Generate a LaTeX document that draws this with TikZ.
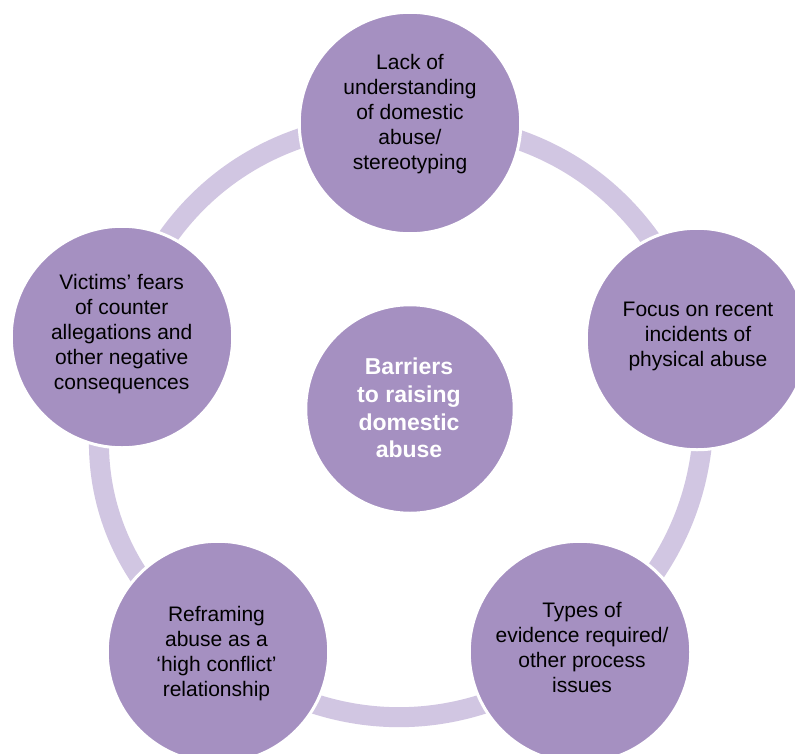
\documentclass[tikz,border=0pt]{standalone}
\usepackage{fontspec}
\setmainfont{Liberation Sans}
\usetikzlibrary{backgrounds}
\definecolor{nodefill}{HTML}{A590C1}
\definecolor{ringcol}{HTML}{D1C6E2}
\tikzset{
  bubble/.style={circle, fill=nodefill, draw=white, line width=3pt, minimum size=221.5pt, inner sep=0pt},
  hubble/.style={circle, fill=nodefill, draw=white, line width=3pt, minimum size=208.5pt, inner sep=0pt},
  ring/.style={draw=ringcol, line width=20pt},
  lbl/.style={font=\fontsize{21}{25}\selectfont, align=center, text=black, inner sep=0pt},
  hublbl/.style={font=\bfseries\fontsize{23}{27.7}\selectfont, align=center, text=white, inner sep=0pt}
}
\begin{document}
\begin{tikzpicture}[x=1pt,y=1pt]
\useasboundingbox (0,0) rectangle (795,-753);
\node[bubble] (top) at (410,-123) {};
\node[bubble] (right) at (697,-339) {};
\node[bubble] (br) at (580,-652) {};
\node[bubble] (bl) at (218,-652) {};
\node[bubble] (left) at (122,-337) {};
\node[hubble] (hub) at (410,-409) {};
\node[lbl] (toptext) at (410,-114.5) {Lack of\\understanding\\of domestic\\abuse/\\stereotyping};
\node[lbl] (righttext) at (698,-336.7) {Focus on recent\\incidents of\\physical abuse};
\node[lbl] (brtext) at (582,-647.3) {Types of\\evidence required/\\other process\\issues};
\node[lbl] (bltext) at (216.5,-653.5) {Reframing\\abuse as a\\‘high conflict’\\relationship};
\node[lbl] (lefttext) at (121.7,-334.5) {Victims’ fears\\of counter\\allegations and\\other negative\\consequences};
\node[hublbl] (hubtext) at (409,-408) {Barriers\\to raising\\domestic\\abuse};
\begin{pgfonlayer}{background}
\fill[white] (0,0) rectangle (795,-753);
\draw[ring] (top.center) to[bend left=38] (right.center);
\draw[ring] (right.center) to[bend left=31] (br.center);
\draw[ring] (br.center) to[bend left=38] (bl.center);
\draw[ring] (bl.center) to[bend left=41] (left.center);
\draw[ring] (left.center) to[bend left=39] (top.center);
\end{pgfonlayer}
\end{tikzpicture}
\end{document}
